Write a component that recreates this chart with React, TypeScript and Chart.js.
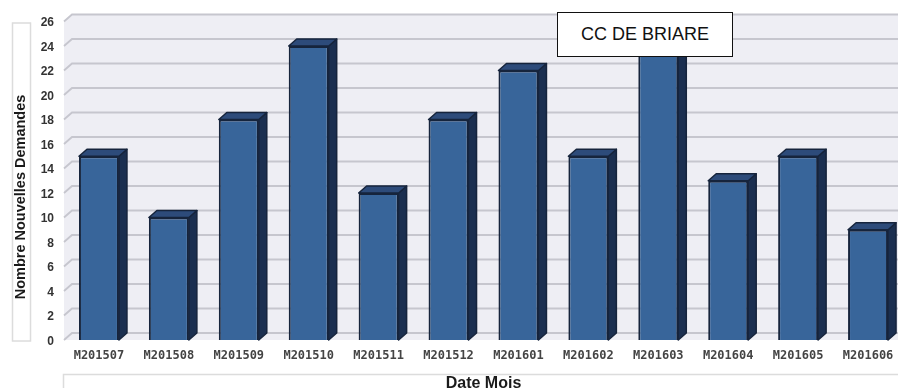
import React, { useEffect, useRef } from "react";
import { Chart, registerables } from "chart.js";

Chart.register(...registerables);

const categories = ["M201507", "M201508", "M201509", "M201510", "M201511", "M201512", "M201601", "M201602", "M201603", "M201604", "M201605", "M201606"];
const demandes = [15, 10, 18, 24, 12, 18, 22, 15, 24, 13, 15, 9];
const yTitle = "Nombre Nouvelles Demandes";
const xTitle = "Date Mois";
const boxLabel = "CC DE BRIARE";

const DX = 8;
const DY = 7;

const scene3d = {
  id: "scene3d",
  beforeDatasetsDraw(chart: any) {
    const { ctx, chartArea, scales } = chart;
    const y = scales.y;
    const { left, right } = chartArea;
    const top = y.getPixelForValue(26);
    const bottom = y.getPixelForValue(0);
    ctx.save();
    // back wall + side wall + floor
    ctx.fillStyle = "#eeeef4";
    ctx.beginPath();
    ctx.moveTo(left, top);
    ctx.lineTo(left + DX, top - DY);
    ctx.lineTo(right, top - DY);
    ctx.lineTo(right, bottom);
    ctx.lineTo(left, bottom);
    ctx.closePath();
    ctx.fill();
    // grid lines
    ctx.strokeStyle = "#c6c6ce";
    ctx.lineWidth = 1.8;
    y.ticks.forEach((t: any) => {
      const py = y.getPixelForValue(t.value);
      ctx.beginPath();
      ctx.moveTo(left, py);
      ctx.lineTo(left + DX, py - DY);
      ctx.lineTo(right, py - DY);
      ctx.stroke();
    });
    // y-title box
    ctx.fillStyle = "#ffffff";
    ctx.strokeStyle = "#dcdcdc";
    ctx.lineWidth = 1.5;
    ctx.fillRect(12.5, 23, 18, 318);
    ctx.strokeRect(12.5, 23, 18, 318);
    // x-title box
    ctx.strokeRect(63.5, 374.5, 840, 30);
    ctx.restore();
  },
  afterDatasetsDraw(chart: any) {
    const { ctx, scales } = chart;
    const y = scales.y;
    const meta = chart.getDatasetMeta(0);
    ctx.save();
    ctx.lineJoin = "round";
    ctx.lineWidth = 1.5;
    ctx.strokeStyle = "#16243c";
    meta.data.forEach((bar: any) => {
      const hw = bar.width / 2;
      const l = bar.x - hw;
      const r = bar.x + hw;
      const t = bar.y;
      const b = y.getPixelForValue(0);
      // side face
      ctx.fillStyle = "#1b2f50";
      ctx.beginPath();
      ctx.moveTo(r, t);
      ctx.lineTo(r + DX, t - DY);
      ctx.lineTo(r + DX, b - DY);
      ctx.lineTo(r, b);
      ctx.closePath();
      ctx.fill();
      ctx.stroke();
      // top face
      ctx.fillStyle = "#2d4b7a";
      ctx.beginPath();
      ctx.moveTo(l, t);
      ctx.lineTo(l + DX, t - DY);
      ctx.lineTo(r + DX, t - DY);
      ctx.lineTo(r, t);
      ctx.closePath();
      ctx.fill();
      ctx.stroke();
    });
    // y title
    ctx.fillStyle = "#1a1a1a";
    ctx.font = "bold 14.5px 'Liberation Sans'";
    ctx.textAlign = "center";
    ctx.textBaseline = "middle";
    ctx.translate(21, 197);
    ctx.rotate(-Math.PI / 2);
    ctx.fillText(yTitle, 0, 0);
    ctx.restore();
  },
};

export default function App() {
  const ref = useRef<HTMLCanvasElement>(null);
  useEffect(() => {
    const chart = new Chart(ref.current!, {
      type: "bar",
      data: {
        labels: categories,
        datasets: [
          {
            label: yTitle,
            data: demandes,
            backgroundColor: "#38659a",
            borderColor: "#16243c",
            borderWidth: 2,
            barPercentage: 0.572,
            categoryPercentage: 1,
          },
        ],
      },
      options: {
        responsive: false,
        animation: false,
        layout: { padding: { top: 21.5, right: 0, bottom: 0, left: 0 } },
        plugins: { legend: { display: false }, tooltip: { enabled: false } },
        scales: {
          x: {
            afterFit: (s: any) => {
              s.height = 48;
            },
            grid: { display: false, drawTicks: false },
            border: { display: false },
            ticks: {
              color: "#444444",
              font: { family: "'DejaVu Sans Mono'", size: 12, weight: "bold" },
              padding: 9,
              maxRotation: 0,
              autoSkip: false,
            },
            title: {
              display: true,
              text: xTitle,
              color: "#1a1a1a",
              font: { family: "'Liberation Sans'", size: 16, weight: "bold" },
              padding: { top: 0, bottom: -5 },
            },
          },
          y: {
            min: 0,
            max: 26,
            afterFit: (s: any) => {
              s.width = 64;
            },
            grid: { display: false, drawTicks: false },
            border: { display: false },
            ticks: {
              stepSize: 2,
              color: "#333333",
              font: { family: "'Liberation Sans'", size: 12, weight: "bold" },
              padding: 10,
              labelOffset: 1.5,
            },
          },
        },
      },
      plugins: [scene3d],
    } as any);
    return () => chart.destroy();
  }, []);
  return (
    <div style={{ position: "absolute", left: 0, top: 0, width: 898, height: 388, overflow: "hidden", background: "#fff" }}>
      <canvas ref={ref} width={903} height={388} style={{ display: "block", width: 903, height: 388 }} />
      <div
        style={{
          position: "absolute",
          left: 557,
          top: 12,
          width: 176,
          height: 45,
          boxSizing: "border-box",
          border: "1.5px solid #111",
          background: "#fff",
          color: "#111",
          font: "18px 'Liberation Sans'",
          display: "flex",
          alignItems: "center",
          justifyContent: "center",
        }}
      >
        {boxLabel}
      </div>
    </div>
  );
}
